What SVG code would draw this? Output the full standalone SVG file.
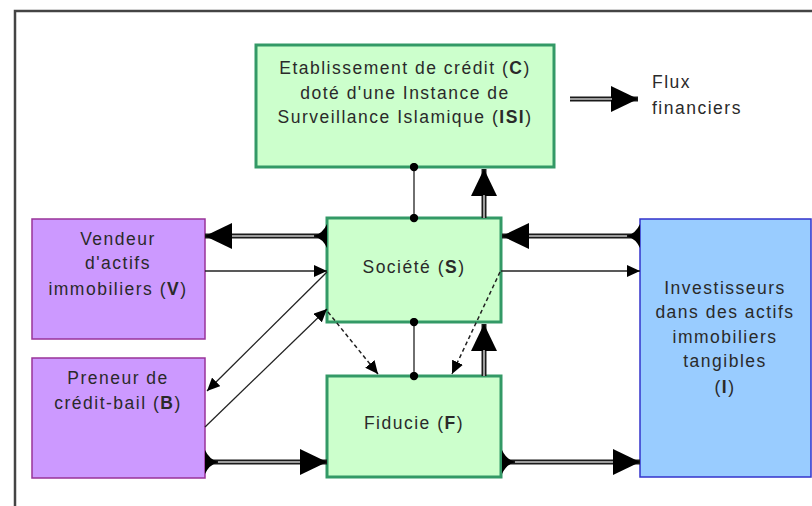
<svg xmlns="http://www.w3.org/2000/svg" width="812" height="506" viewBox="0 0 812 506">
<defs>
<style>
text{font-family:"Liberation Sans",Arial,sans-serif;font-size:17.5px;fill:#2a2a2a;letter-spacing:1.5px}
.c{text-anchor:middle}
.b{font-weight:bold}
.green{fill:#ccffcc;stroke:#339966;stroke-width:3}
.purple{fill:#cc99ff;stroke:#993399;stroke-width:1.5}
.blue{fill:#99ccff;stroke:#3333cc;stroke-width:1.5}
.dbl{fill:none;stroke:#1a1a1a;stroke-width:5}
.dbli{fill:none;stroke:#c8c8c8;stroke-width:1.5}
.sgl{fill:none;stroke:#222;stroke-width:1.3}
.dash{fill:none;stroke:#222;stroke-width:1.5;stroke-dasharray:4 3}
.frame{fill:none;stroke:#444;stroke-width:2.5}
</style>
<marker id="big" markerUnits="userSpaceOnUse" markerWidth="27" markerHeight="26" refX="27" refY="13" orient="auto" viewBox="0 0 27 26">
<path d="M0,0 L27,13 L0,26 z" fill="#000"/>
</marker>
<marker id="tail" markerUnits="userSpaceOnUse" markerWidth="13" markerHeight="24" refX="0" refY="12" orient="auto" viewBox="0 0 13 24">
<path d="M0,0 Q4,9 13,12 Q4,15 0,24 z" fill="#000"/>
</marker>
<marker id="small" markerUnits="userSpaceOnUse" markerWidth="13" markerHeight="12" refX="13" refY="6" orient="auto" viewBox="0 0 13 12">
<path d="M0,0 L13,6 L0,12 z" fill="#000"/>
</marker>
<marker id="dot" markerUnits="userSpaceOnUse" markerWidth="9" markerHeight="9" refX="4.5" refY="4.5" viewBox="0 0 9 9">
<circle cx="4.5" cy="4.5" r="4.2" fill="#000"/>
</marker>
</defs>

<path class="frame" d="M15,506 L15,11 L812,11"/>

<g id="node-C">
<rect class="green" x="256" y="45" width="298" height="122"/>
<text class="c" x="405" y="74">Etablissement de crédit (<tspan class="b">C</tspan>)</text>
<text class="c" x="405" y="99">doté d'une Instance de</text>
<text class="c" x="405" y="123">Surveillance Islamique (<tspan class="b">ISI</tspan>)</text>
</g>

<g id="node-S">
<rect class="green" x="327" y="218" width="174" height="104"/>
<text class="c" x="414" y="273">Société (<tspan class="b">S</tspan>)</text>
</g>

<g id="node-F">
<rect class="green" x="327" y="376" width="174" height="101"/>
<text class="c" x="414" y="429">Fiducie (<tspan class="b">F</tspan>)</text>
</g>

<g id="node-V">
<rect class="purple" x="32" y="219" width="173" height="120"/>
<text class="c" x="118" y="245">Vendeur</text>
<text class="c" x="118" y="269">d'actifs</text>
<text class="c" x="118" y="295">immobiliers (<tspan class="b">V</tspan>)</text>
</g>

<g id="node-B">
<rect class="purple" x="32" y="358" width="173" height="120"/>
<text class="c" x="118" y="384">Preneur de</text>
<text class="c" x="118" y="409">crédit-bail (<tspan class="b">B</tspan>)</text>
</g>

<g id="node-I">
<rect class="blue" x="640" y="219" width="171" height="258"/>
<text class="c" x="725" y="294">Investisseurs</text>
<text class="c" x="725" y="318">dans des actifs</text>
<text class="c" x="725" y="343">immobiliers</text>
<text class="c" x="725" y="367">tangibles</text>
<text class="c" x="725" y="393">(<tspan class="b">I</tspan>)</text>
</g>

<g id="legend">
<path class="dbl" d="M570,99 L638,99" marker-end="url(#big)"/>
<path class="dbli" d="M570,99 L612,99"/>
<text x="652" y="88">Flux</text>
<text x="652" y="114">financiers</text>
</g>

<g id="connectors">
<path class="sgl" d="M414,167 L414,218" marker-start="url(#dot)" marker-end="url(#dot)"/>
<path class="dbl" d="M484,218 L484,169" marker-end="url(#big)"/>
<path class="dbli" d="M484,218 L484,195"/>
<path class="sgl" d="M414,322 L414,376" marker-start="url(#dot)" marker-end="url(#dot)"/>
<path class="dbl" d="M484,376 L484,324" marker-end="url(#big)"/>
<path class="dbli" d="M484,376 L484,350"/>
<path class="dash" d="M328,312 L378,374" marker-end="url(#small)"/>
<path class="dash" d="M500,272 L452,374" marker-end="url(#small)"/>
<path class="dbl" d="M327,236 L205,236" marker-start="url(#tail)" marker-end="url(#big)"/>
<path class="dbli" d="M314,236 L232,236"/>
<path class="sgl" d="M205,271 L327,271" marker-end="url(#small)"/>
<path class="sgl" d="M327,272 L207,391" marker-end="url(#small)"/>
<path class="sgl" d="M205,427 L327,309" marker-end="url(#small)"/>
<path class="dbl" d="M205,462 L327,462" marker-start="url(#tail)" marker-end="url(#big)"/>
<path class="dbli" d="M218,462 L300,462"/>
<path class="dbl" d="M502,462 L640,462" marker-start="url(#tail)" marker-end="url(#big)"/>
<path class="dbli" d="M515,462 L613,462"/>
<path class="dbl" d="M640,236 L502,236" marker-start="url(#tail)" marker-end="url(#big)"/>
<path class="dbli" d="M627,236 L529,236"/>
<path class="sgl" d="M501,271 L640,271" marker-end="url(#small)"/>
</g>
</svg>
